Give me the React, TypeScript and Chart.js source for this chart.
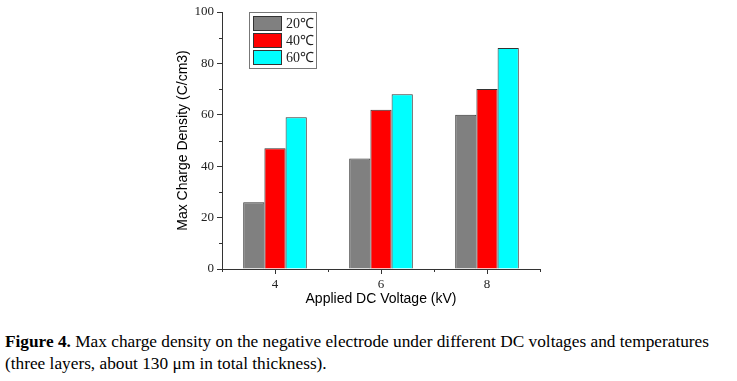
import React, { useEffect, useRef } from 'react';
import { Chart, registerables } from 'chart.js';

Chart.register(...registerables);

const categories = ['4', '6', '8'];
const seriesLabels = ['20℃', '40℃', '60℃'];
const values20 = [26, 43, 60];
const values40 = [47, 62, 70];
const values60 = [59, 68, 86];
const seriesColors = ['#808080', '#ff0000', '#00ffff'];
const yMin = 0;
const yMax = 100;
const yStep = 20;
const yMinorTicks = [10, 30, 50, 70, 90];

const AXIS = '#333333';

const customPlugin = {
  id: 'customDecor',
  afterDraw(chart: any) {
    const ctx = chart.ctx;
    const area = chart.chartArea;
    const ys = chart.scales.y;
    const xs = chart.scales.x;
    ctx.save();
    ctx.strokeStyle = AXIS;
    ctx.lineWidth = 1;
    // y minor ticks
    yMinorTicks.forEach((v) => {
      const py = Math.round(ys.getPixelForValue(v)) + 0.5;
      ctx.beginPath();
      ctx.moveTo(area.left, py);
      ctx.lineTo(area.left - 3, py);
      ctx.stroke();
    });
    // x minor ticks at category boundaries
    for (let i = 0; i <= categories.length; i++) {
      const px = Math.round(xs.getPixelForValue(i - 0.5)) + 0.5;
      ctx.beginPath();
      ctx.moveTo(px, area.bottom);
      ctx.lineTo(px, area.bottom + 3);
      ctx.stroke();
    }
    // legend box inside plot
    const bx = area.left + 27;
    const by = area.top;
    const bw = 67;
    const bh = 56;
    ctx.fillStyle = '#ffffff';
    ctx.fillRect(bx, by, bw, bh);
    ctx.strokeStyle = '#777777';
    ctx.strokeRect(bx + 0.5, by + 0.5, bw, bh);
    ctx.font = '14px "Liberation Serif"';
    ctx.textBaseline = 'middle';
    ctx.textAlign = 'left';
    chart.data.datasets.forEach((ds: any, i: number) => {
      const sy = by + 4 + i * 17;
      ctx.fillStyle = ds.backgroundColor;
      ctx.fillRect(bx + 4, sy, 29, 15);
      ctx.strokeStyle = AXIS;
      ctx.strokeRect(bx + 4.5, sy + 0.5, 28, 14);
      ctx.fillStyle = '#222222';
      ctx.fillText(ds.label, bx + 37, sy + 8);
    });
    ctx.restore();
  },
};

function BarChart() {
  const ref = useRef<HTMLCanvasElement | null>(null);
  useEffect(() => {
    if (!ref.current) return;
    const mk = (label: string, data: number[], color: string) => ({
      label,
      data,
      backgroundColor: color,
      borderColor: AXIS,
      borderWidth: 1,
      barPercentage: 1,
      categoryPercentage: 0.6,
    });
    const chart = new Chart(ref.current, {
      type: 'bar',
      data: {
        labels: categories,
        datasets: [
          mk(seriesLabels[0], values20, seriesColors[0]),
          mk(seriesLabels[1], values40, seriesColors[1]),
          mk(seriesLabels[2], values60, seriesColors[2]),
        ],
      },
      options: {
        responsive: false,
        animation: false,
        layout: { padding: { left: 170, right: 197, top: 12, bottom: 0 } },
        plugins: { legend: { display: false }, tooltip: { enabled: false } },
        scales: {
          x: {
            grid: { display: true, drawOnChartArea: false, offset: false, tickLength: 5, color: AXIS },
            border: { color: AXIS, width: 1 },
            ticks: { color: '#222222', font: { family: 'Liberation Serif', size: 13 }, padding: 3 },
            title: {
              display: true,
              text: 'Applied DC Voltage (kV)',
              color: '#000000',
              font: { family: 'Liberation Sans', size: 14 },
              padding: { top: 0, bottom: 12 },
            },
            afterFit: (s: any) => {
              s.height = 51;
            },
          },
          y: {
            min: yMin,
            max: yMax,
            grid: { display: true, drawOnChartArea: false, tickLength: 5, color: AXIS },
            border: { color: AXIS, width: 1 },
            ticks: { stepSize: yStep, color: '#222222', font: { family: 'Liberation Serif', size: 13 }, padding: 3 },
            title: {
              display: true,
              text: 'Max Charge Density (C/cm3)',
              color: '#000000',
              font: { family: 'Liberation Sans', size: 14 },
              padding: { top: 5, bottom: 0 },
            },
            afterFit: (s: any) => {
              s.width = 52;
            },
          },
        },
      },
      plugins: [customPlugin],
    } as any);
    return () => chart.destroy();
  }, []);
  return <canvas ref={ref} width={737} height={320} style={{ display: 'block' }} />;
}

export default function App() {
  return (
    <div style={{ position: 'absolute', left: 0, top: 0, width: 737, height: 381, background: '#fff', overflow: 'hidden' }}>
      <BarChart />
      <div
        style={{
          position: 'absolute',
          left: 5,
          top: 331,
          fontFamily: '"Liberation Serif", serif',
          fontSize: 17.3,
          lineHeight: '22px',
          color: '#000',
          whiteSpace: 'nowrap',
        }}
      >
        <b>Figure 4.</b> Max charge density on the negative electrode under different DC voltages and temperatures
        <br />
        (three layers, about 130 μm in total thickness).
      </div>
    </div>
  );
}
